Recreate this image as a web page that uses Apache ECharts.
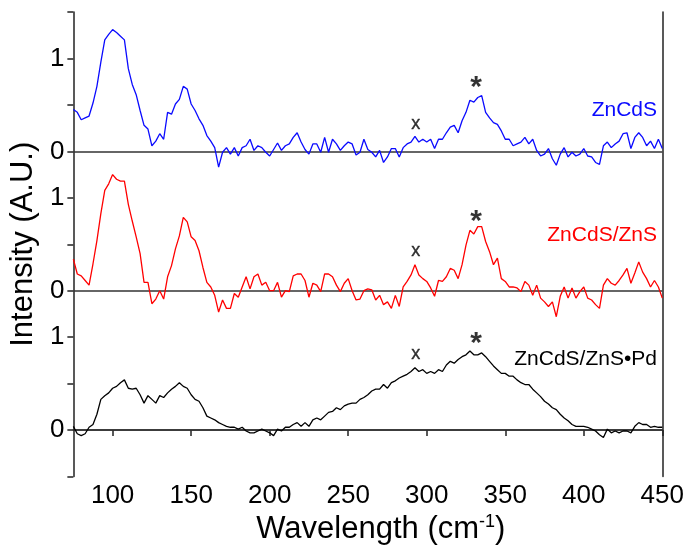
<!DOCTYPE html>
<html>
<head>
<meta charset="utf-8">
<script src="https://cdn.jsdelivr.net/npm/echarts/dist/echarts.min.js"></script>
<style>
  html, body { margin: 0; padding: 0; background: #fff; }
  #chart { width: 687px; height: 550px; }
</style>
</head>
<body>
<div id="chart"></div>
<script>
// Wavenumber sampling grid (cm^-1)
const waveStart = 75, waveStep = 2.5, waveCount = 151;
const waves = [];
for (let i = 0; i < waveCount; i++) waves.push(waveStart + i * waveStep);

const xTicks = [100, 150, 200, 250, 300, 350, 400, 450];

// Intensities (A.U.), one value per grid point
const znCdS = [
  0.45,0.42,0.34,0.36,0.38,0.52,0.70,0.96,1.20,1.26,
  1.31,1.28,1.24,1.20,0.89,0.72,0.61,0.44,0.28,0.24,
  0.06,0.11,0.19,0.13,0.42,0.40,0.51,0.56,0.70,0.67,
  0.51,0.44,0.35,0.28,0.17,0.11,0.04,-0.17,-0.01,0.04,
  -0.03,0.04,-0.05,0.04,0.06,0.13,0.01,0.06,0.04,-0.01,
  -0.05,0.02,0.09,0.01,0.06,0.08,0.15,0.20,0.10,0.02,
  -0.03,0.08,0.08,-0.01,0.15,-0.01,0.13,0.08,0.01,0.06,
  0.10,0.08,-0.04,-0.01,0.13,0.02,-0.01,-0.06,0.01,-0.12,
  -0.06,0.03,0.03,-0.06,0.04,0.08,0.10,0.16,0.10,0.13,
  0.10,0.13,0.03,0.13,0.13,0.20,0.26,0.28,0.20,0.33,
  0.42,0.55,0.53,0.58,0.60,0.42,0.36,0.31,0.29,0.22,
  0.13,0.13,0.06,0.08,0.10,0.15,0.08,0.13,0.01,-0.05,
  -0.03,0.03,-0.08,-0.15,-0.03,0.04,-0.06,-0.01,-0.05,-0.03,
  0.03,-0.05,-0.06,-0.12,-0.14,0.06,0.10,0.04,0.08,0.11,
  0.19,0.20,0.03,0.15,0.20,0.15,0.06,0.11,0.03,0.13,
  0.03
];
const znCdSZnS = [
  0.34,0.18,0.16,0.11,0.06,0.29,0.54,0.83,1.08,1.15,
  1.25,1.20,1.18,1.18,0.93,0.75,0.58,0.40,0.09,0.09,
  -0.14,-0.09,0.00,-0.09,0.15,0.27,0.45,0.59,0.79,0.74,
  0.58,0.54,0.43,0.25,0.09,0.04,-0.05,-0.23,-0.10,-0.19,
  -0.19,-0.03,-0.07,0.04,0.15,0.02,0.15,0.18,0.06,0.09,
  0.00,0.00,0.09,-0.07,0.00,-0.01,0.16,0.18,0.18,0.11,
  -0.07,0.08,0.06,-0.01,0.18,0.18,0.15,0.06,-0.01,0.08,
  0.13,0.00,-0.10,-0.09,0.00,0.02,0.01,-0.10,-0.05,-0.15,
  -0.12,-0.19,-0.05,-0.17,0.04,0.10,0.17,0.28,0.17,0.13,
  0.10,0.03,-0.06,0.11,0.10,0.15,0.24,0.22,0.13,0.28,
  0.49,0.65,0.61,0.69,0.69,0.53,0.42,0.28,0.35,0.13,
  0.10,0.04,0.04,0.03,-0.01,0.10,0.06,-0.05,0.06,-0.08,
  -0.12,-0.17,-0.12,-0.28,-0.06,0.04,-0.08,0.03,-0.08,-0.01,
  0.04,-0.08,-0.10,-0.15,-0.19,0.06,0.13,0.08,0.06,0.11,
  0.17,0.24,0.08,0.19,0.31,0.20,0.13,0.04,0.11,0.04,
  -0.08
];
const znCdSZnSPd = [
  0.04,-0.04,-0.06,-0.04,0.03,0.06,0.17,0.33,0.37,0.40,
  0.45,0.47,0.51,0.54,0.45,0.44,0.45,0.38,0.29,0.37,
  0.33,0.29,0.37,0.35,0.40,0.44,0.47,0.51,0.47,0.45,
  0.38,0.33,0.31,0.24,0.15,0.13,0.11,0.08,0.06,0.04,
  0.03,0.03,0.01,0.03,-0.01,-0.03,-0.03,-0.01,0.01,-0.01,
  -0.03,-0.06,0.01,-0.01,0.03,0.03,0.06,0.08,0.04,0.08,
  0.04,0.11,0.13,0.11,0.15,0.19,0.20,0.24,0.22,0.26,
  0.28,0.29,0.29,0.33,0.35,0.38,0.42,0.44,0.44,0.49,
  0.45,0.51,0.53,0.56,0.58,0.60,0.63,0.67,0.63,0.65,
  0.61,0.63,0.61,0.65,0.63,0.70,0.74,0.72,0.76,0.79,
  0.81,0.85,0.81,0.81,0.83,0.79,0.74,0.69,0.65,0.61,
  0.61,0.58,0.58,0.54,0.51,0.49,0.49,0.44,0.40,0.36,
  0.31,0.28,0.24,0.22,0.17,0.13,0.10,0.06,0.04,0.04,
  0.04,0.03,0.01,-0.01,-0.05,-0.08,0.01,-0.03,-0.01,-0.03,
  -0.01,-0.01,-0.03,0.04,0.08,0.06,0.06,0.03,0.04,0.03,
  0.03
];

const seriesNames = ['ZnCdS', 'ZnCdS/ZnS', 'ZnCdS/ZnS\u2022Pd'];
const seriesColors = ['#0a0aff', '#ff0000', '#000000'];
const panelBase = [3.0, 1.5, 0];           // baseline of each stacked trace
// Annotation markers: wavenumber and height above each trace baseline
const crossWave = 292.3, starWave = 330.8;
const crossHeight = [0.30, 0.435, 0.83];
const starHeight = [0.757, 0.821, 1.00];

const FONT = '"Liberation Sans", Arial, sans-serif';
const chart = echarts.init(document.getElementById('chart'), null, { renderer: 'canvas' });

const allValues = [znCdS, znCdSZnS, znCdSZnSPd];
const series = [];
allValues.forEach((vals, k) => {
  series.push({
    name: seriesNames[k],
    type: 'line',
    showSymbol: false,
    symbol: 'none',
    silent: true,
    z: 3,
    lineStyle: { color: seriesColors[k], width: 1.3 },
    data: waves.map((w, i) => [w, vals[i] + panelBase[k]]),
    markLine: {
      silent: true,
      symbol: ['none', 'none'],
      label: { show: false },
      lineStyle: { color: '#333', width: 1.5, type: 'solid' },
      data: [{ yAxis: panelBase[k] }],
      z: 2
    }
  });
});
series.push({
  type: 'scatter', silent: true, symbolSize: 2, z: 5,
  itemStyle: { color: 'rgba(0,0,0,0)' },
  label: { show: true, position: 'inside', formatter: 'x', color: '#000',
           fontFamily: FONT, fontSize: 18, offset: [1, 1],
           textBorderColor: '#000', textBorderWidth: 0.4 },
  data: crossHeight.map((h, k) => [crossWave, h + panelBase[k]])
});
series.push({
  type: 'scatter', silent: true, symbolSize: 2, z: 5,
  itemStyle: { color: 'rgba(0,0,0,0)' },
  label: { show: true, position: 'inside', formatter: '*', color: '#000',
           fontFamily: FONT, fontSize: 30, fontWeight: 'bold', offset: [1, 7] },
  data: starHeight.map((h, k) => [starWave, h + panelBase[k]])
});

const labelTops = [100, 224.5, 349];

chart.setOption({
  animation: false,
  backgroundColor: '#fff',
  grid: { left: 73, right: 23, top: 12, bottom: 71 },
  xAxis: {
    type: 'value', min: 75, max: 450,
    name: 'Wavelength (cm{sup|-1})',
    nameLocation: 'middle', nameGap: 37,
    nameTextStyle: { fontSize: 31, color: '#000', fontFamily: FONT, padding: [0, 0, 0, 26],
      rich: { sup: { fontSize: 18, color: '#000', fontFamily: FONT, padding: [0, 0, 14, 0] } } },
    axisLine: { show: true, lineStyle: { color: '#222', width: 1.5 } },
    axisTick: { show: true, inside: false, length: 6, customValues: xTicks, lineStyle: { color: '#222', width: 1.5 } },
    axisLabel: { customValues: xTicks, fontSize: 26, color: '#000', fontFamily: FONT, margin: 6 },
    splitLine: { show: false }
  },
  yAxis: [{
    type: 'value', min: -0.5, max: 4.5, interval: 0.5,
    name: 'Intensity (A.U.)',
    nameLocation: 'middle', nameGap: 31,
    nameTextStyle: { fontSize: 31, color: '#000', fontFamily: FONT },
    axisLine: { show: true, lineStyle: { color: '#222', width: 1.5 } },
    axisTick: { show: true, inside: false, length: 6, lineStyle: { color: '#222', width: 1.5 } },
    axisLabel: {
      fontSize: 26, color: '#000', fontFamily: FONT, margin: 9,
      showMinLabel: true, showMaxLabel: true,
      formatter: function (v) {
        const r = Math.round(v * 10) / 10;
        if (r === 0 || r === 1.5 || r === 3) return '0';
        if (r === 1 || r === 2.5 || r === 4) return '1';
        return '';
      }
    },
    splitLine: { show: false }
  }, {
    type: 'value', min: -0.5, max: 4.5, position: 'right',
    axisLine: { show: true, onZero: false, lineStyle: { color: '#222', width: 1.5 } },
    axisTick: { show: false }, axisLabel: { show: false }, splitLine: { show: false }
  }],
  graphic: seriesNames.map((n, k) => ({
    type: 'text', right: 30, top: labelTops[k], silent: true,
    style: { text: n, fill: seriesColors[k], fontSize: 21, fontFamily: FONT }
  })),
  series: series
});
</script>
</body>
</html>
